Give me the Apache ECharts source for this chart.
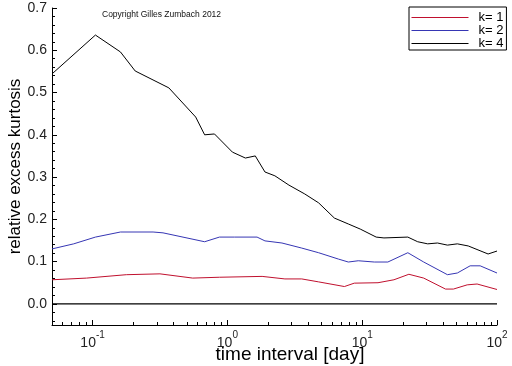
<!DOCTYPE html>
<html>
<head>
<meta charset="utf-8">
<script src="https://cdn.jsdelivr.net/npm/echarts@6/dist/echarts.min.js"></script>
<style>
html,body{margin:0;padding:0;background:#fff;}
#chart{width:512px;height:366px;}
</style>
</head>
<body>
<div id="chart"></div>
<script>
// ---- data ----
const seriesNames = ['k= 1', 'k= 2', 'k= 4'];
const seriesColors = ['#c0102e', '#3636b4', '#000000'];

const k1Times  = [0.05, 0.0903, 0.178, 0.316, 0.553, 0.873, 1.81, 2.67, 3.56, 4.75, 7.38, 8.74, 13.1, 17.2, 22.2, 28.6, 41.5, 47.5, 60.1, 71.2, 100];
const k1Values = [0.057, 0.061, 0.069, 0.071, 0.061, 0.063, 0.065, 0.059, 0.059, 0.052, 0.041, 0.049, 0.050, 0.057, 0.070, 0.061, 0.035, 0.035, 0.045, 0.047, 0.034];

const k2Times  = [0.05, 0.0724, 0.105, 0.161, 0.281, 0.333, 0.678, 0.873, 1.125, 1.66, 1.90, 2.54, 3.56, 4.75, 6.66, 7.89, 9.35, 12.3, 15.5, 21.8, 28.6, 42.9, 50.8, 63.2, 75.0, 100];
const k2Values = [0.130, 0.142, 0.158, 0.170, 0.170, 0.168, 0.147, 0.158, 0.158, 0.158, 0.149, 0.144, 0.132, 0.121, 0.106, 0.099, 0.102, 0.099, 0.099, 0.121, 0.099, 0.069, 0.073, 0.090, 0.090, 0.073];

const k4Times  = [0.05, 0.105, 0.161, 0.207, 0.368, 0.582, 0.678, 0.802, 1.09, 1.36, 1.61, 1.90, 2.25, 2.86, 3.75, 4.75, 6.22, 7.89, 9.67, 12.7, 14.5, 21.8, 25.8, 30.6, 36.2, 42.9, 50.8, 61.2, 85.9, 100];
const k4Values = [0.544, 0.636, 0.596, 0.551, 0.511, 0.442, 0.400, 0.402, 0.359, 0.345, 0.350, 0.312, 0.303, 0.281, 0.260, 0.239, 0.203, 0.189, 0.177, 0.158, 0.156, 0.158, 0.147, 0.142, 0.144, 0.139, 0.142, 0.137, 0.118, 0.125];

const zeroTimes  = [0.05, 100];
const zeroValues = [0, 0];

// ---- tick labels ----
const xMajorTicks = [0.1, 1, 10, 100];
const xExponents  = ['-1', '0', '1', '2'];
const xMinorTicks = [0.06, 0.07, 0.08, 0.09, 0.2, 0.3, 0.4, 0.5, 0.6, 0.7, 0.8, 0.9,
                     2, 3, 4, 5, 6, 7, 8, 9, 20, 30, 40, 50, 60, 70, 80, 90];
const yMajorTicks = [0, 0.1, 0.2, 0.3, 0.4, 0.5, 0.6, 0.7];
const yMinorTicks = [-0.04, -0.02, 0.02, 0.04, 0.06, 0.08, 0.12, 0.14, 0.16, 0.18,
                     0.22, 0.24, 0.26, 0.28, 0.32, 0.34, 0.36, 0.38, 0.42, 0.44, 0.46, 0.48,
                     0.52, 0.54, 0.56, 0.58, 0.62, 0.64, 0.66, 0.68];

function pairs(xs, ys) { return xs.map((x, i) => [x, ys[i]]); }

const FONT = '"Liberation Sans", Arial, sans-serif';
const chart = echarts.init(document.getElementById('chart'), null, {renderer: 'canvas'});

const xBase = {
  type: 'log', logBase: 10, min: 0.05, max: 100,
  gridIndex: 0, position: 'bottom',
  splitLine: {show: false}, minorTick: {show: false}, minorSplitLine: {show: false}
};
const yBase = {
  type: 'value', min: -0.05, max: 0.7, gridIndex: 0, position: 'left',
  splitLine: {show: false}, minorTick: {show: false}, scale: false
};

chart.setOption({
  animation: false,
  backgroundColor: '#fff',
  color: seriesColors,
  title: {
    text: 'Copyright Gilles Zumbach 2012',
    left: 102, top: 10, padding: 0,
    textStyle: {fontSize: 8.5, fontWeight: 'normal', color: '#111', fontFamily: FONT}
  },
  legend: {
    data: seriesNames.map((n, i) => ({name: n, lineStyle: {color: seriesColors[i], width: 1}})),
    orient: 'vertical',
    left: 409, top: 7,
    padding: [4, 3, 0, 2],
    itemWidth: 57, itemHeight: 13, itemGap: 0,
    itemStyle: {opacity: 0},
    lineStyle: {width: 1},
    backgroundColor: '#fff',
    borderColor: '#000', borderWidth: 1, borderRadius: 0,
    textStyle: {fontSize: 13, color: '#000', fontFamily: FONT, lineHeight: 13, padding: [0, 0, 0, 5]}
  },
  grid: {left: 52, right: 15, top: 8, bottom: 41, containLabel: false, outerBoundsMode: 'none'},
  xAxis: [
    Object.assign({}, xBase, {
      name: 'time interval [day]',
      nameLocation: 'middle', nameGap: 20, nameMoveOverlap: false,
      nameTextStyle: {fontSize: 19, color: '#000', fontFamily: FONT, padding: [0, 0, 0, 31]},
      axisLine: {show: true, onZero: false, lineStyle: {color: '#000', width: 1}},
      axisTick: {show: true, inside: true, length: 5, customValues: xMajorTicks, lineStyle: {color: '#000'}},
      axisLabel: {
        show: true, margin: 5, customValues: xMajorTicks,
        formatter: function (v) {
          const i = xMajorTicks.findIndex(t => Math.abs(Math.log10(t) - Math.log10(v)) < 1e-6);
          return '{b|10}{s|' + (i >= 0 ? xExponents[i] : '') + '}';
        },
        rich: {
          b: {fontSize: 14, color: '#222', fontFamily: FONT, lineHeight: 20, verticalAlign: 'bottom'},
          s: {fontSize: 10, color: '#222', fontFamily: FONT, lineHeight: 10, verticalAlign: 'top'}
        }
      }
    }),
    Object.assign({}, xBase, {
      axisLine: {show: false, onZero: false},
      axisTick: {show: true, inside: true, length: 3, customValues: xMinorTicks, lineStyle: {color: '#000'}},
      axisLabel: {show: false}
    })
  ],
  yAxis: [
    Object.assign({}, yBase, {
      name: 'relative excess kurtosis',
      nameLocation: 'middle', nameGap: 28, nameMoveOverlap: false,
      nameTextStyle: {fontSize: 17, color: '#000', fontFamily: FONT},
      axisLine: {show: true, onZero: false, lineStyle: {color: '#000', width: 1}},
      axisTick: {show: true, inside: true, length: 5, customValues: yMajorTicks, lineStyle: {color: '#000'}},
      axisLabel: {
        show: true, margin: 5, customValues: yMajorTicks,
        formatter: v => v.toFixed(1),
        fontSize: 14, color: '#222', fontFamily: FONT
      }
    }),
    Object.assign({}, yBase, {
      axisLine: {show: false, onZero: false},
      axisTick: {show: true, inside: true, length: 3, customValues: yMinorTicks, lineStyle: {color: '#000'}},
      axisLabel: {show: false}
    })
  ],
  series: [
    {
      name: seriesNames[0], type: 'line', xAxisIndex: 0, yAxisIndex: 0,
      data: pairs(k1Times, k1Values), symbol: 'none', smooth: false,
      itemStyle: {color: seriesColors[0]}, lineStyle: {color: seriesColors[0], width: 1}
    },
    {
      name: seriesNames[1], type: 'line', xAxisIndex: 0, yAxisIndex: 0,
      data: pairs(k2Times, k2Values), symbol: 'none', smooth: false,
      itemStyle: {color: seriesColors[1]}, lineStyle: {color: seriesColors[1], width: 1}
    },
    {
      name: seriesNames[2], type: 'line', xAxisIndex: 0, yAxisIndex: 0,
      data: pairs(k4Times, k4Values), symbol: 'none', smooth: false,
      itemStyle: {color: seriesColors[2]}, lineStyle: {color: seriesColors[2], width: 1}
    },
    {
      name: 'zero', type: 'line', xAxisIndex: 0, yAxisIndex: 0,
      data: pairs(zeroTimes, zeroValues), symbol: 'none', silent: true,
      itemStyle: {color: '#000'}, lineStyle: {color: '#000', width: 1.2}
    }
  ]
});
</script>
</body>
</html>
